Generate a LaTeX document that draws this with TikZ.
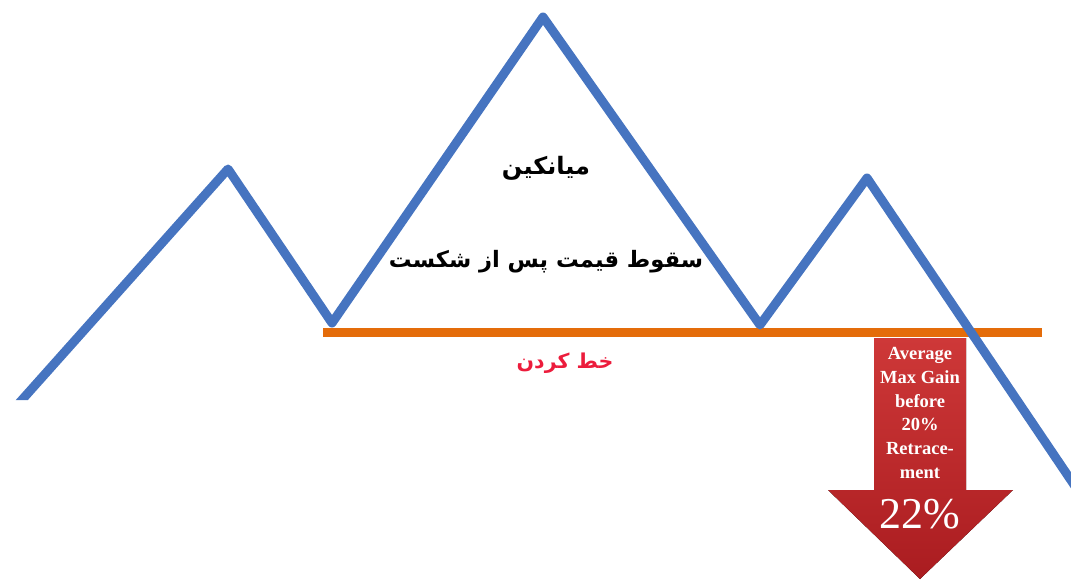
\documentclass[tikz,border=0pt]{standalone}
\usepackage{fontspec}
\setmainfont{Liberation Serif}
\newfontfamily\arabicfont[Script=Arabic]{DejaVu Sans}
\TeXXeTstate=1
\definecolor{cblue}{RGB}{70,116,192}
\definecolor{corange}{RGB}{228,108,10}
\definecolor{ctxtred}{RGB}{236,28,60}
\definecolor{carrowtop}{RGB}{206,56,56}
\definecolor{carrowbot}{RGB}{170,28,32}
\tikzset{
  priceline/.style={draw=cblue, line width=9pt, line join=round},
  neckline/.style={draw=corange, line width=9pt},
  fatext/.style={font=\arabicfont\bfseries\fontsize{24}{28}\selectfont, text=black, inner sep=0pt},
  fatextb/.style={font=\arabicfont\bfseries\fontsize{22.6}{26}\selectfont, text=black, inner sep=0pt},
  necktext/.style={font=\arabicfont\bfseries\fontsize{20.5}{24}\selectfont, text=ctxtred, inner sep=0pt},
  arrowshape/.style={top color=carrowtop, bottom color=carrowbot, draw=none},
  arrowtext/.style={font=\bfseries\fontsize{18.5}{23.8}\selectfont, text=white, align=center, inner sep=0pt},
  bigtext/.style={font=\fontsize{44}{48}\selectfont, text=white, inner sep=0pt}
}
\begin{document}
\begin{tikzpicture}[x=1pt,y=-1pt]
\useasboundingbox (0,0) rectangle (1071,579);
% price path points
\coordinate (s0) at (4,420);
\coordinate (p1) at (228,169);
\coordinate (t1) at (332,323);
\coordinate (hd) at (543,17);
\coordinate (t2) at (760,325);
\coordinate (p3) at (867,178);
\coordinate (e0) at (1085,501);
% neckline
\coordinate (n0) at (323,332);
\coordinate (n1) at (1042,332);
\draw[neckline] (n0) -- (n1);
\begin{scope}
\clip (0,0) -- (1071,0) -- (1071,579) -- (300,579) -- (300,400) -- (0,400) -- cycle;
\draw[priceline] (s0) -- (p1) -- (t1) -- (hd) -- (t2) -- (p3) -- (e0);
\end{scope}
% arrow
\coordinate (a1) at (874,338);
\coordinate (a2) at (966,338);
\coordinate (a3) at (966,490);
\coordinate (a4) at (1013,490);
\coordinate (tip) at (920,579);
\coordinate (a6) at (828,490);
\coordinate (a7) at (874,490);
\fill[arrowshape] (a1) -- (a2) -- (a3) -- (a4) -- (tip) -- (a6) -- (a7) -- cycle;
\node[arrowtext] (gain) at (920,413) {Average\\Max Gain\\before\\20\%\\Retrace-\\ment};
\node[bigtext] (pct) at (920,514) {22\%};
% texts
\node[fatext] (avg) at (546,168) {\beginR میانکین\endR};
\node[fatextb] (fall) at (546,262) {\beginR سقوط قیمت پس از شکست\endR};
\node[necktext] (neck) at (565,363) {\beginR خط کردن\endR};
\end{tikzpicture}
\end{document}
